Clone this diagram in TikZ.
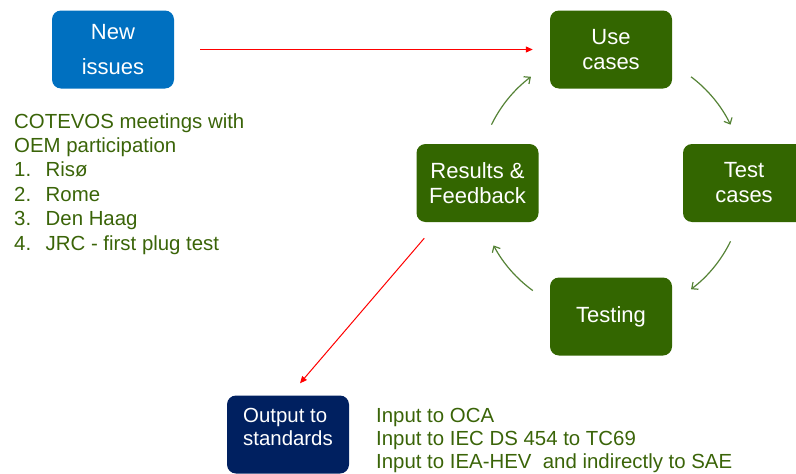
\documentclass[tikz,border=0pt]{standalone}
\usepackage{fontspec}
\setmainfont{Liberation Sans}
\usetikzlibrary{arrows.meta,calc}

\definecolor{issueblue}{RGB}{0,112,192}
\definecolor{stagegreen}{RGB}{51,102,0}
\definecolor{cyclegreen}{RGB}{84,130,53}
\definecolor{outnavy}{RGB}{0,32,96}
\definecolor{notegreen}{RGB}{58,100,8}

\tikzset{
  stage/.style={rounded corners=9pt, minimum width=122pt, minimum height=78pt,
    inner sep=0pt, align=center, text=white, font=\fontsize{22}{25}\selectfont},
  redlink/.style={red, line width=1pt, -{Triangle[length=7pt,width=6pt]}},
  cyclelink/.style={cyclegreen, line width=1.2pt, -{Straight Barb[length=5pt,width=9pt]}},
  note/.style={anchor=base west, inner sep=0pt, text=notegreen,
    font=\fontsize{20.4}{24}\selectfont},
}

\begin{document}
\begin{tikzpicture}[x=1pt, y=-1pt]
\clip (0,0) rectangle (796,474);

% boxes
\node[stage, fill=issueblue, font=\fontsize{22}{35}\selectfont] (issues) at (113,49.5) {New\\issues};
\node[stage, fill=stagegreen] (uses) at (611,49.5) {Use\\cases};
\node[stage, fill=stagegreen] (tests) at (744,183) {Test\\cases};
\node[stage, fill=stagegreen] (testing) at (611,316.5) {Testing};
\node[stage, fill=stagegreen] (results) at (477.5,183) {Results \&\\Feedback};
\node[stage, fill=outnavy, align=left, font=\fontsize{20.4}{23}\selectfont,
  text depth=15pt] (output) at (288,434.5) {Output to\\standards};

% cycle
\coordinate (hub) at (611,183);
\draw[cyclelink] ($(hub)+(-53:133)$) arc[start angle=-53, end angle=-26, radius=133];
\draw[cyclelink] ($(hub)+(26:133)$) arc[start angle=26, end angle=53, radius=133];
\draw[cyclelink] ($(hub)+(126:133)$) arc[start angle=126, end angle=152, radius=133];
\draw[cyclelink] ($(hub)+(206:133)$) arc[start angle=206, end angle=233, radius=133];

% red links
\draw[redlink, shorten <=26pt, shorten >=17pt] (issues.east) -- (uses.west);
\coordinate (feedfoot) at ($(results.south west)+(8,16)$);
\coordinate (outtop) at ($(output.north)+(12,-12)$);
\draw[redlink] (feedfoot) -- (outtop);

% notes
\node[note] (head1) at (14,128) {COTEVOS meetings with};
\node[note] (head2) at (14,152.4) {OEM participation};
\foreach \n/\place in {1/Risø, 2/Rome, 3/Den Haag, 4/JRC - first plug test} {
  \node[note] (meet\n) at (14,152.4+24.4*\n) {\makebox[31.5pt][l]{\n.}\place};
}

\node[note] (oca) at (376,422) {Input to OCA};
\node[note] (iec) at (376,445) {Input to IEC DS 454 to TC69};
\node[note] (iea) at (376,468) {Input to IEA-HEV~ and indirectly to SAE};
\end{tikzpicture}
\end{document}
